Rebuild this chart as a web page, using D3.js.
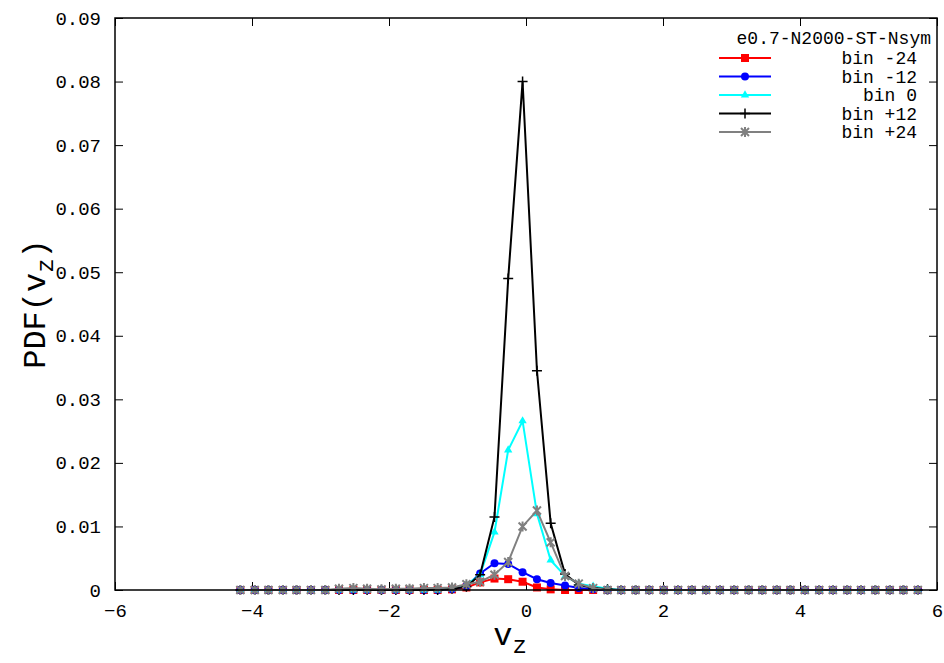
<!DOCTYPE html>
<html><head><meta charset="utf-8">
<script src="https://cdn.jsdelivr.net/npm/d3@7"></script>
<style>body{margin:0;background:#fff}svg text{font-family:"Courier New","Liberation Mono","DejaVu Sans Mono",monospace !important}</style>
</head><body><svg id="c" width="944" height="663"></svg>
<script>
const xs = [-4.17,-3.96,-3.76,-3.55,-3.35,-3.14,-2.93,-2.73,-2.52,-2.32,-2.11,-1.90,-1.70,-1.49,-1.29,-1.08,-0.87,-0.67,-0.46,-0.26,-0.05,0.16,0.36,0.57,0.77,0.98,1.19,1.39,1.60,1.80,2.01,2.22,2.42,2.63,2.83,3.04,3.25,3.45,3.66,3.86,4.07,4.28,4.48,4.69,4.89,5.10,5.31,5.51,5.72];
const z = n => new Array(n).fill(0);
const binM24 = [...z(15),0.0001,0.0004,0.0012,0.0018,0.0017,0.0013,0.0004,0.0001,...z(26)];
const binM12 = [...z(15),0.0001,0.0006,0.0026,0.0042,0.0041,0.0028,0.0017,0.0011,0.0007,0.0003,0.0001,...z(23)];
const bin0   = [...z(15),0.0002,0.0008,0.0024,0.0091,0.022,0.0266,0.012,0.0047,0.0022,0.001,0.0006,0.0002,...z(22)];
const binP12 = [...z(15),0.0002,0.0005,0.0024,0.0115,0.049,0.080,0.0345,0.0105,0.0025,0.0008,0.0003,0.0001,...z(22)];
const binP24 = [...z(7),0.0002,0.0003,0.0002,0.0001,0.0002,0.0002,0.0003,0.0003,0.0004,0.0009,0.0013,0.0024,0.0044,0.0100,0.0125,0.0075,0.0022,0.001,0.0003,...z(23)];
const series = [
  {name:"bin -24", color:"#ff0000", sym:"square", vals:binM24},
  {name:"bin -12", color:"#0000ff", sym:"circle", vals:binM12},
  {name:"bin 0",   color:"#00ffff", sym:"triangle", vals:bin0},
  {name:"bin +12", color:"#000000", sym:"plus", vals:binP12},
  {name:"bin +24", color:"#808080", sym:"star", vals:binP24}
];
const xTicks = [-6,-4,-2,0,2,4,6];
const yTicks = [0,0.01,0.02,0.03,0.04,0.05,0.06,0.07,0.08,0.09];

const L=115,R=937,T=18,B=590;
const svg=d3.select("#c");
const x=d3.scaleLinear().domain([-6,6]).range([L,R]);
const y=d3.scaleLinear().domain([0,0.09]).range([B,T]);

svg.append("g").attr("transform",`translate(0,${B})`)
  .call(d3.axisBottom(x).tickValues(xTicks).tickSizeInner(-8).tickSizeOuter(0).tickPadding(14))
  .call(g=>g.select(".domain").remove());
svg.append("g").attr("transform",`translate(0,${T})`)
  .call(d3.axisTop(x).tickValues(xTicks).tickSizeInner(-8).tickSizeOuter(0).tickFormat(""))
  .call(g=>g.select(".domain").remove());
svg.append("g").attr("transform",`translate(${L},0)`)
  .call(d3.axisLeft(y).tickValues(yTicks).tickSizeInner(-8).tickSizeOuter(0).tickPadding(14).tickFormat(d=>d===0?"0":d3.format(".2f")(d)))
  .call(g=>g.select(".domain").remove());
svg.append("g").attr("transform",`translate(${R},0)`)
  .call(d3.axisRight(y).tickValues(yTicks).tickSizeInner(-8).tickSizeOuter(0).tickFormat(""))
  .call(g=>g.select(".domain").remove());
svg.selectAll(".tick text").attr("font-size",19).attr("fill","#000");
svg.selectAll(".tick line").attr("stroke","#000");

const symT={square:d3.symbolSquare,circle:d3.symbolCircle,triangle:d3.symbolTriangle};
function marker(g,s,cx,cy){
  if(s.sym==="plus"){
    g.append("path").attr("d",`M${cx-5},${cy}H${cx+5}M${cx},${cy-5}V${cy+5}`).attr("stroke",s.color).attr("stroke-width",1.5);
  } else if(s.sym==="star"){
    g.append("path").attr("d",`M${cx-4},${cy-4}L${cx+4},${cy+4}M${cx-4},${cy+4}L${cx+4},${cy-4}M${cx},${cy-5}V${cy+5}`).attr("stroke",s.color).attr("stroke-width",2);
  } else {
    const size={square:64,circle:50,triangle:30}[s.sym];
    g.append("path").attr("d",d3.symbol(symT[s.sym],size)()).attr("transform",`translate(${cx},${cy})`).attr("fill",s.color);
  }
}
const line=d3.line().x((d,i)=>x(xs[i])).y(d=>y(d));
series.forEach(s=>{
  const g=svg.append("g");
  g.append("path").attr("d",line(s.vals)).attr("fill","none").attr("stroke",s.color).attr("stroke-width",2);
  s.vals.forEach((v,i)=>marker(g,s,x(xs[i]),y(v)));
});

svg.append("rect").attr("x",L).attr("y",T).attr("width",R-L).attr("height",B-T).attr("fill","none").attr("stroke","#000").attr("stroke-width",1.5);

// legend
const lg=svg.append("g");
lg.append("text").attr("x",931).attr("y",44).attr("text-anchor","end").attr("font-size",18).text("e0.7-N2000-ST-Nsym");
series.forEach((s,i)=>{
  const yy=58+i*18.5;
  lg.append("line").attr("x1",719).attr("x2",771).attr("y1",yy).attr("y2",yy).attr("stroke",s.color).attr("stroke-width",2);
  marker(lg,s,745,yy);
  lg.append("text").attr("x",917).attr("y",yy+6).attr("text-anchor","end").attr("font-size",18).text(s.name);
});

// axis titles
svg.append("text").attr("x",510).attr("y",645).attr("text-anchor","middle").attr("font-size",32).html('v<tspan font-size="24" dy="8">z</tspan>');
svg.append("text").attr("transform","translate(45,304) rotate(-90)").attr("text-anchor","middle").attr("font-size",32).html('PDF(v<tspan font-size="24" dy="8">z</tspan><tspan dy="-8">)</tspan>');
</script></body></html>
